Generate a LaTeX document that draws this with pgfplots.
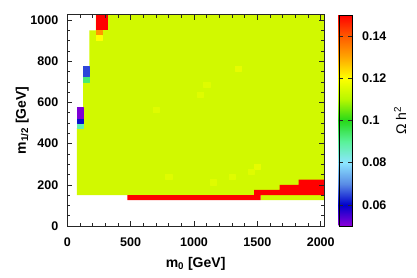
\documentclass[border=0pt]{standalone}
\usepackage{fontspec}
\setmainfont{Liberation Sans}
\usepackage{pgfplots}
\pgfplotsset{compat=1.18}
\definecolor{maingreen}{rgb}{0.82,0.975,0.0}
\begin{document}
\begin{tikzpicture}
\begin{axis}[
  name=main,
  scale only axis,
  width=256.6pt, height=211.2pt,
  xmin=0, xmax=2025, ymin=0, ymax=1025,
  xtick={0,500,1000,1500,2000},
  ytick={0,200,400,600,800,1000},
  minor x tick num=4,
  minor y tick num=3,
  tick align=inside,
  major tick length=5pt, minor tick length=3pt,
  tick style={black!85, line width=0.5pt},
  axis line style={black!85, line width=0.6pt},
  axis on top,
  /pgf/number format/assume math mode=true,
  /pgf/number format/1000 sep={},
  tick label style={font=\fontsize{12.5}{15}\selectfont\bfseries},
  xticklabel style={yshift=-8pt},
  yticklabel style={xshift=-5.5pt},
  xlabel={m\textsubscript{0} [GeV]},
  ylabel={m\textsubscript{1/2} [GeV]},
  every axis x label/.style={at={(axis description cs:0.5,0)}, anchor=center, yshift=-38pt, font=\fontsize{14}{16}\selectfont\bfseries},
  every axis y label/.style={at={(axis description cs:0,0.5)}, xshift=-45pt, anchor=center, rotate=90, font=\fontsize{14}{16}\selectfont\bfseries},
  colormap={omega}{rgb=(0.55,0,0.85) rgb=(0,0,0.8) rgb=(0.35,0.55,0.9) rgb=(0.55,0.9,1) rgb=(0.35,0.95,0.6) rgb=(0.15,0.85,0.1) rgb=(0.72,0.97,0) rgb=(1,1,0) rgb=(1,0.65,0) rgb=(1,0.35,0) rgb=(1,0,0)},
  point meta min=0.05, point meta max=0.15,
  colorbar,
  colorbar style={
    at={(parent axis.north east)}, anchor=north west, xshift=6.3pt,
    scale only axis,
    width=13.3pt,
    ytick={0.06,0.08,0.1,0.12,0.14},
    yticklabels={0.06,0.08,0.1,0.12,0.14},
    minor y tick num=0,
    ytick pos=both,
    yticklabel pos=right,
    ytick align=inside,
    major tick length=4pt,
    yticklabel style={xshift=6.5pt},
    ylabel={Ω h\textsuperscript{2}},
    every axis y label/.style={at={(axis description cs:1,0.5)}, xshift=48pt, anchor=center, rotate=90, font=\fontsize{14}{16}\selectfont},
  },
]
% main region (Omega h^2 ~ 0.114)
\addplot[fill=maingreen, draw=none] coordinates {(75,150) (75,475) (125,475) (125,700) (175,700) (175,950) (225,950) (225,1025) (2025,1025) (2025,125) (1525,125) (1525,150)} -- cycle;
% red regions (Omega h^2 >= 0.15)
\addplot[fill=red, draw=none] coordinates {(475,125) (1525,125) (1525,150) (2025,150) (2025,225) (1825,225) (1825,200) (1675,200) (1675,175) (1475,175) (1475,150) (475,150)} -- cycle;
\addplot[fill=red, draw=none] coordinates {(225,950) (325,950) (325,1025) (225,1025)} -- cycle;
% individual cells
\addplot[patch, patch type=rectangle, shader=flat, point meta=explicit] table[meta=c] {
x y c
75 475 0.088
125 475 0.088
125 500 0.088
75 500 0.088
75 500 0.061
125 500 0.061
125 525 0.061
75 525 0.061
75 525 0.051
125 525 0.051
125 575 0.051
75 575 0.051
125 700 0.093
175 700 0.093
175 725 0.093
125 725 0.093
125 725 0.065
175 725 0.065
175 775 0.065
125 775 0.065
225 925 0.132
275 925 0.132
275 950 0.132
225 950 0.132
225 900 0.120
275 900 0.120
275 925 0.120
225 925 0.120
1325 750 0.1165
1375 750 0.1165
1375 775 0.1165
1325 775 0.1165
1075 675 0.1155
1125 675 0.1155
1125 700 0.1155
1075 700 0.1155
1025 625 0.1155
1075 625 0.1155
1075 650 0.1155
1025 650 0.1155
675 550 0.1155
725 550 0.1155
725 575 0.1155
675 575 0.1155
1475 275 0.1165
1525 275 0.1165
1525 300 0.1165
1475 300 0.1165
775 225 0.1155
825 225 0.1155
825 250 0.1155
775 250 0.1155
1125 200 0.1155
1175 200 0.1155
1175 225 0.1155
1125 225 0.1155
1275 225 0.1155
1325 225 0.1155
1325 250 0.1155
1275 250 0.1155
1425 250 0.1155
1475 250 0.1155
1475 275 0.1155
1425 275 0.1155
};
\end{axis}
\path ([xshift=-67.3pt,yshift=-52pt]main.south west) rectangle ++(417pt,278pt);
\end{tikzpicture}
\end{document}
